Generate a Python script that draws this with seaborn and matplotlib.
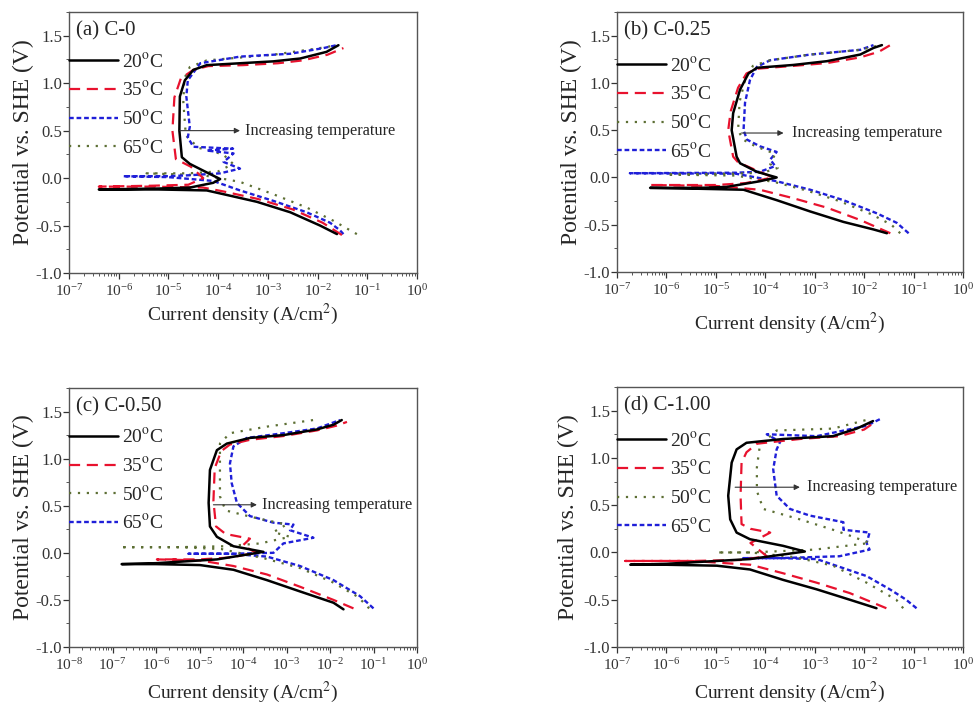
import numpy as np
import matplotlib
matplotlib.use("Agg")
import matplotlib.pyplot as plt
import seaborn as sns
from matplotlib.ticker import LogLocator, MultipleLocator, FormatStrFormatter, NullFormatter

# ---------------- data (log10 of current density in A/cm^2, potential in V vs SHE) -------------
temps = ["20", "35", "50", "65"]
panel_titles = ["(a) C-0", "(b) C-0.25", "(c) C-0.50", "(d) C-1.00"]

# (a) C-0
a20_logi = [-1.61, -1.95, -2.55, -3.22, -3.89, -4.23, -5.2, -6.4, -5.2, -4.57, -4.1, -3.96, -4.23, -4.57, -4.73,
            -4.78, -4.77, -4.67, -4.50, -4.23, -3.56, -2.89, -2.35, -1.82, -1.58]
a20_E = [-0.59, -0.50, -0.36, -0.25, -0.17, -0.13, -0.12, -0.12, -0.11, -0.10, -0.05, -0.01, 0.06, 0.15, 0.22,
         0.50, 0.86, 1.03, 1.14, 1.19, 1.21, 1.23, 1.26, 1.33, 1.40]
a35_logi = [-1.51, -1.90, -2.50, -3.20, -3.90, -4.30, -5.3, -6.4, -5.3, -4.6, -4.3, -4.55, -4.85, -4.92, -4.88,
            -4.75, -4.50, -4.20, -3.50, -2.80, -2.30, -1.80, -1.48]
a35_E = [-0.60, -0.47, -0.33, -0.22, -0.14, -0.10, -0.09, -0.09, -0.08, -0.07, 0.00, 0.12, 0.20, 0.50, 0.85,
         1.05, 1.14, 1.18, 1.19, 1.21, 1.24, 1.30, 1.37]
a50_logi = [-1.48, -1.55, -1.75, -2.22, -2.89, -3.56, -4.10, -5.0, -5.91, -5.0, -4.57, -3.96, -3.56, -3.89, -3.69,
            -4.23, -3.70, -4.50, -4.61, -4.57, -4.64, -4.61, -4.36, -3.56, -2.55, -1.88, -1.62]
a50_E = [-0.59, -0.55, -0.47, -0.36, -0.24, -0.13, -0.03, 0.01, 0.02, 0.02, 0.03, 0.05, 0.10, 0.17, 0.26,
         0.29, 0.31, 0.33, 0.43, 0.54, 0.86, 1.03, 1.21, 1.28, 1.31, 1.37, 1.40]
a65_logi = [-1.21, -1.28, -1.68, -2.22, -2.89, -3.56, -4.3, -5.44, -4.6, -4.0, -3.7, -3.9, -4.4, -4.65, -4.70,
            -4.68, -4.57, -4.23, -2.89, -1.82, -1.65]
a65_E = [-0.59, -0.57, -0.45, -0.31, -0.17, -0.04, 0.03, 0.05, 0.05, 0.07, 0.15, 0.25, 0.32, 0.45, 0.80,
         1.05, 1.17, 1.24, 1.30, 1.38, 1.40]

# (b) C-0.25
b20_logi = [-1.54, -1.81, -2.42, -3.09, -3.77, -4.44, -5.3, -6.33, -5.3, -4.78, -4.11, -3.77, -4.17, -4.51, -4.58,
            -4.68, -4.65, -4.51, -4.34, -4.17, -3.43, -2.75, -2.08, -1.81, -1.64]
b20_E = [-0.59, -0.55, -0.47, -0.36, -0.24, -0.13, -0.12, -0.11, -0.11, -0.10, -0.04, 0.00, 0.06, 0.15, 0.22,
         0.50, 0.68, 0.93, 1.10, 1.16, 1.19, 1.23, 1.30, 1.37, 1.40]
b35_logi = [-1.47, -2.08, -2.75, -3.43, -4.11, -5.0, -6.33, -5.0, -4.4, -3.85, -4.2, -4.55, -4.65, -4.75, -4.70,
            -4.55, -4.38, -4.17, -3.43, -2.75, -2.08, -1.70, -1.47]
b35_E = [-0.59, -0.45, -0.32, -0.22, -0.13, -0.09, -0.08, -0.08, -0.06, 0.00, 0.08, 0.16, 0.22, 0.50, 0.70,
         0.95, 1.10, 1.15, 1.18, 1.21, 1.27, 1.33, 1.40]
b50_logi = [-1.27, -1.45, -1.85, -2.5, -3.15, -3.8, -4.6, -6.0, -4.6, -4.05, -3.75, -3.9, -3.8, -4.2, -4.45,
            -4.55, -4.52, -4.4, -4.25, -3.9, -3.09, -2.08, -1.75]
b50_E = [-0.59, -0.50, -0.39, -0.25, -0.14, -0.05, 0.02, 0.03, 0.04, 0.05, 0.10, 0.14, 0.25, 0.33, 0.40,
         0.50, 0.80, 1.05, 1.18, 1.24, 1.30, 1.35, 1.39]
b65_logi = [-1.10, -1.34, -1.74, -2.42, -3.09, -3.77, -4.6, -6.74, -4.6, -4.11, -3.80, -3.90, -3.77, -4.11, -4.37,
            -4.44, -4.41, -4.31, -4.17, -3.90, -3.09, -2.08, -1.81]
b65_E = [-0.59, -0.48, -0.38, -0.24, -0.13, -0.04, 0.04, 0.045, 0.05, 0.06, 0.12, 0.19, 0.27, 0.33, 0.40,
         0.50, 0.79, 1.03, 1.17, 1.24, 1.30, 1.35, 1.40]

# (c) C-0.50
c20_logi = [-1.69, -1.92, -2.69, -3.45, -4.22, -4.99, -6.0, -6.79, -6.0, -4.60, -3.53, -4.22, -4.60, -4.76, -4.79,
            -4.76, -4.60, -4.37, -3.84, -3.07, -2.30, -1.92, -1.73]
c20_E = [-0.60, -0.53, -0.41, -0.29, -0.18, -0.13, -0.12, -0.12, -0.11, -0.07, 0.01, 0.07, 0.17, 0.28, 0.53,
         0.88, 1.09, 1.16, 1.22, 1.25, 1.31, 1.36, 1.41]
c35_logi = [-1.46, -1.92, -2.69, -3.45, -4.22, -5.0, -5.98, -5.0, -4.3, -3.7, -4.0, -3.84, -4.4, -4.62, -4.68,
            -4.65, -4.5, -4.3, -3.84, -3.07, -2.3, -1.85, -1.61]
c35_E = [-0.59, -0.50, -0.36, -0.23, -0.14, -0.08, -0.07, -0.07, -0.05, 0.00, 0.08, 0.15, 0.20, 0.28, 0.55,
         0.90, 1.08, 1.15, 1.20, 1.24, 1.30, 1.35, 1.39]
c50_logi = [-1.1, -1.35, -1.95, -2.7, -3.5, -4.5, -5.5, -6.83, -5.5, -4.4, -3.6, -2.92, -3.3, -3.0, -3.8,
            -4.4, -4.53, -4.53, -4.53, -4.30, -3.45, -2.38]
c50_E = [-0.59, -0.47, -0.31, -0.16, -0.06, 0.04, 0.06, 0.06, 0.06, 0.07, 0.10, 0.17, 0.22, 0.30, 0.38,
         0.45, 0.60, 0.95, 1.16, 1.27, 1.34, 1.41]
c65_logi = [-1.0, -1.31, -1.92, -2.69, -3.45, -4.3, -5.25, -4.3, -3.3, -3.07, -2.38, -2.92, -2.84, -3.30, -3.84,
            -4.14, -4.26, -4.30, -4.22, -3.91, -3.07, -2.30, -1.77]
c65_E = [-0.59, -0.46, -0.29, -0.14, -0.04, -0.01, -0.01, -0.01, 0.0, 0.10, 0.16, 0.24, 0.30, 0.32, 0.39,
         0.53, 0.74, 0.95, 1.13, 1.22, 1.27, 1.32, 1.41]

# (d) C-1.00
d20_logi = [-1.75, -2.29, -2.96, -3.64, -4.31, -4.98, -6.0, -6.73, -6.0, -4.31, -3.20, -3.64, -4.31, -4.58, -4.71,
            -4.75, -4.68, -4.58, -4.38, -3.64, -2.63, -2.15, -1.82]
d20_E = [-0.59, -0.50, -0.39, -0.29, -0.18, -0.14, -0.13, -0.13, -0.12, -0.07, 0.01, 0.07, 0.14, 0.21, 0.35,
         0.60, 0.95, 1.09, 1.16, 1.20, 1.23, 1.31, 1.39]
d35_logi = [-1.55, -2.29, -2.96, -3.64, -4.3, -5.5, -6.83, -5.5, -4.5, -3.97, -4.3, -3.90, -4.3, -4.48, -4.50,
            -4.48, -4.38, -4.17, -3.30, -2.5, -2.0, -1.75]
d35_E = [-0.59, -0.43, -0.32, -0.22, -0.13, -0.09, -0.09, -0.09, -0.08, -0.04, 0.10, 0.21, 0.25, 0.30, 0.60,
         0.95, 1.06, 1.15, 1.20, 1.23, 1.30, 1.39]
d50_logi = [-1.21, -1.35, -1.95, -2.63, -3.4, -4.3, -4.98, -4.3, -3.0, -1.89, -2.3, -2.63, -3.3, -4.04, -4.17,
            -4.17, -4.11, -3.77, -2.63, -1.89]
d50_E = [-0.59, -0.50, -0.32, -0.14, -0.05, 0.0, 0.0, 0.0, 0.03, 0.10, 0.18, 0.24, 0.35, 0.46, 0.65,
         0.90, 1.13, 1.29, 1.31, 1.41]
d65_logi = [-0.94, -1.15, -1.48, -1.95, -2.96, -3.7, -4.44, -3.7, -2.5, -1.89, -1.95, -1.89, -2.42, -2.42, -3.10,
            -3.50, -3.77, -3.84, -3.77, -3.70, -3.97, -2.96, -1.95, -1.68]
d65_E = [-0.59, -0.50, -0.39, -0.25, -0.07, -0.06, -0.06, -0.06, -0.04, 0.03, 0.10, 0.21, 0.24, 0.32, 0.39,
         0.46, 0.60, 0.88, 1.09, 1.17, 1.25, 1.23, 1.34, 1.41]

panel_curves = [
    [(a20_logi, a20_E), (a35_logi, a35_E), (a50_logi, a50_E), (a65_logi, a65_E)],
    [(b20_logi, b20_E), (b35_logi, b35_E), (b50_logi, b50_E), (b65_logi, b65_E)],
    [(c20_logi, c20_E), (c35_logi, c35_E), (c50_logi, c50_E), (c65_logi, c65_E)],
    [(d20_logi, d20_E), (d35_logi, d35_E), (d50_logi, d50_E), (d65_logi, d65_E)],
]

# annotation arrow ("Increasing temperature") per panel: log10 current start/end, potential, text log10 x
arrow_start = [-4.77, -4.48, -4.68, -4.61]
arrow_end = [-3.56, -3.63, -3.68, -3.30]
arrow_E = [0.50, 0.47, 0.51, 0.69]
text_logx = [-3.45, -3.45, -3.57, -3.16]

xmin_exp = [-7, -7, -8, -7]

# ---------------- styles ----------------
sns.set_style("ticks")
plt.rcParams["font.family"] = ["Liberation Serif", "DejaVu Serif"]
plt.rcParams["mathtext.fontset"] = "stix"
plt.rcParams["axes.unicode_minus"] = False

RED = "#e8122e"
BLUE = "#1f1fd8"
OLIVE = "#5d6f34"
st_black = dict(color="black", linestyle="-", linewidth=1.8)
st_red = dict(color=RED, linestyle=(0, (5, 3)), linewidth=1.6)
st_blue = dict(color=BLUE, linestyle=(0, (2, 1.2)), linewidth=1.7)
st_olive = dict(color=OLIVE, linestyle=(0, (1, 3)), linewidth=1.6)
panel_styles = [
    [st_black, st_red, st_blue, st_olive],
    [st_black, st_red, st_olive, st_blue],
    [st_black, st_red, st_olive, st_blue],
    [st_black, st_red, st_olive, st_blue],
]

fig = plt.figure(figsize=(9.76, 7.08), dpi=100)
positions = [
    [69 / 976, 1 - 273 / 708, 348 / 976, 261 / 708],
    [617 / 976, 1 - 272 / 708, 346 / 976, 260 / 708],
    [69 / 976, 1 - 647 / 708, 348 / 976, 259 / 708],
    [617 / 976, 1 - 647 / 708, 346 / 976, 260 / 708],
]
xlabel_pads = [2, 9, 5, 5]
ylabel_pads = [0.8, 0.8, 0.8, 3]
legend_tops = [0.846, 0.83, 0.846, 0.83]

for k in range(4):
    ax = fig.add_axes(positions[k])
    handles = [None] * 4
    for j in [3, 2, 1, 0]:
        li, E = panel_curves[k][j]
        sns.lineplot(x=10.0 ** np.array(li), y=np.array(E), ax=ax, sort=False, estimator=None,
                     legend=False, **panel_styles[k][j])
        handles[j] = ax.lines[-1]
    ax.set_xscale("log")
    ax.set_xlim(10.0 ** xmin_exp[k], 1.0)
    ax.set_ylim(-1.0, 1.75)
    ax.xaxis.set_major_locator(LogLocator(base=10, numticks=12))
    ax.xaxis.set_minor_locator(LogLocator(base=10, subs=np.arange(2, 10), numticks=12))
    ax.xaxis.set_minor_formatter(NullFormatter())
    ax.yaxis.set_major_locator(MultipleLocator(0.5))
    ax.yaxis.set_minor_locator(MultipleLocator(0.25))
    ax.yaxis.set_major_formatter(FormatStrFormatter("%.1f"))
    ax.tick_params(which="major", direction="out", length=4, width=0.9, colors="#333333",
                   top=False, right=False)
    ax.tick_params(axis="y", which="major", labelsize=12, pad=1)
    ax.tick_params(axis="x", which="major", labelsize=11)
    ax.tick_params(which="minor", direction="out", length=2, width=0.7, colors="#555555",
                   top=False, right=False)
    for s in ax.spines.values():
        s.set_color("#555555")
        s.set_linewidth(1.0)
    ax.set_xlabel("Current density (A/cm$^2$)", fontsize=14, labelpad=xlabel_pads[k])
    ax.set_ylabel("Potential vs. SHE (V)", fontsize=17, labelpad=ylabel_pads[k])
    ax.text(0.02, 0.965, panel_titles[k], transform=ax.transAxes, fontsize=15, va="top", ha="left")
    ax.legend(handles, [t + r"$^{\mathrm{o}}$C" for t in temps], loc="upper left",
              bbox_to_anchor=(0.0, legend_tops[k]), frameon=False, fontsize=14, borderpad=0,
              borderaxespad=0, handlelength=2.5, handletextpad=0.2, labelspacing=0.5)
    ax.annotate("", xy=(10.0 ** arrow_end[k], arrow_E[k]), xytext=(10.0 ** arrow_start[k], arrow_E[k]),
                arrowprops=dict(arrowstyle="-|>", color="#333333", lw=0.8, mutation_scale=8,
                                shrinkA=0, shrinkB=0))
    ax.text(10.0 ** text_logx[k], arrow_E[k], "Increasing temperature", fontsize=11.8,
            va="center", ha="left")

fig.savefig("out.png", dpi=100, facecolor="white")
